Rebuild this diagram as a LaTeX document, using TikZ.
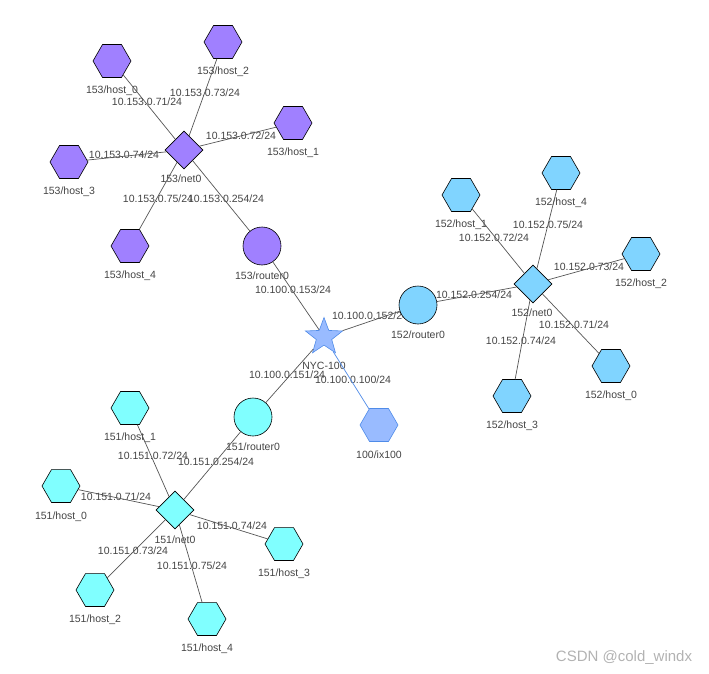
\documentclass[tikz,border=0pt]{standalone}
\usepackage{fontspec}
\setmainfont{Liberation Sans}
\usetikzlibrary{shapes.geometric}
\definecolor{fill153}{HTML}{A080FF}
\definecolor{fill152}{HTML}{80D4FF}
\definecolor{fill151}{HTML}{80FFFF}
\definecolor{fill100}{HTML}{99BBFF}
\definecolor{line100}{HTML}{4F8BE8}
\definecolor{linkgray}{HTML}{555555}
\definecolor{textgray}{HTML}{444444}

\begin{document}
\begin{tikzpicture}[x=1pt,y=-1pt]
\tikzset{
  shapebase/.style={draw=black,line width=0.6pt,inner sep=0pt},
  hostnode/.style={shapebase,regular polygon,regular polygon sides=6,minimum size=38pt},
  netnode/.style={shapebase,diamond,minimum width=38pt,minimum height=38pt},
  routernode/.style={shapebase,circle,minimum size=38pt},
  asnode/.style={shapebase,draw=line100,fill=fill100,star,star points=5,star point ratio=2.4,minimum size=39pt},
  ixnode/.style={hostnode,draw=line100,fill=fill100},
  nametext/.style={text=textgray,inner sep=0pt,font=\fontsize{10.5}{12}\selectfont},
  iptext/.style={nametext},
  link/.style={draw=linkgray,line width=0.7pt},
  ixlink/.style={link,draw=line100}
}
\useasboundingbox (0,0) rectangle (709,674);
% ip labels
\node[iptext] (ip_153_71) at (147,102) {10.153.0.71/24};
\node[iptext] (ip_153_73) at (205,93) {10.153.0.73/24};
\node[iptext] (ip_153_72) at (241,136) {10.153.0.72/24};
\node[iptext] (ip_153_74) at (124,155) {10.153.0.74/24};
\node[iptext] (ip_153_75) at (158,199) {10.153.0.75/24};
\node[iptext] (ip_153_254) at (226,199) {10.153.0.254/24};
\node[iptext] (ip_100_153) at (293,290) {10.100.0.153/24};
\node[iptext] (ip_100_152) at (370,316) {10.100.0.152/24};
\node[iptext] (ip_100_151) at (287,375) {10.100.0.151/24};
\node[iptext] (ip_100_100) at (353,380) {10.100.0.100/24};
\node[iptext] (ip_152_254) at (474,295) {10.152.0.254/24};
\node[iptext] (ip_152_72) at (494,238) {10.152.0.72/24};
\node[iptext] (ip_152_75) at (548,225) {10.152.0.75/24};
\node[iptext] (ip_152_73) at (589,267) {10.152.0.73/24};
\node[iptext] (ip_152_71) at (574,325) {10.152.0.71/24};
\node[iptext] (ip_152_74) at (521,341) {10.152.0.74/24};
\node[iptext] (ip_151_72) at (153,456) {10.151.0.72/24};
\node[iptext] (ip_151_254) at (216,462) {10.151.0.254/24};
\node[iptext] (ip_151_71) at (116,497) {10.151.0.71/24};
\node[iptext] (ip_151_74) at (232,526) {10.151.0.74/24};
\node[iptext] (ip_151_73) at (133,551) {10.151.0.73/24};
\node[iptext] (ip_151_75) at (192,566) {10.151.0.75/24};
% as153
\node[hostnode,fill=fill153] (n_153_h0) at (112,61) {};
\node[hostnode,fill=fill153] (n_153_h1) at (293,123) {};
\node[hostnode,fill=fill153] (n_153_h2) at (223,42) {};
\node[hostnode,fill=fill153] (n_153_h3) at (69,162) {};
\node[hostnode,fill=fill153] (n_153_h4) at (130,246) {};
\node[netnode,fill=fill153] (n_153_net) at (184,150) {};
\node[routernode,fill=fill153] (n_153_r) at (262,246) {};
\node[nametext] (t_153_h0) at (112,91) {153/host\_0};
\node[nametext] (t_153_h1) at (293,153) {153/host\_1};
\node[nametext] (t_153_h2) at (223,72) {153/host\_2};
\node[nametext] (t_153_h3) at (69,192) {153/host\_3};
\node[nametext] (t_153_h4) at (130,276) {153/host\_4};
\node[nametext] (t_153_net) at (181,179) {153/net0};
\node[nametext] (t_153_r) at (262,276) {153/router0};
% as152
\node[hostnode,fill=fill152] (n_152_h0) at (611,366) {};
\node[hostnode,fill=fill152] (n_152_h1) at (461,195) {};
\node[hostnode,fill=fill152] (n_152_h2) at (641,254) {};
\node[hostnode,fill=fill152] (n_152_h3) at (512,396) {};
\node[hostnode,fill=fill152] (n_152_h4) at (561,173) {};
\node[netnode,fill=fill152] (n_152_net) at (533,284) {};
\node[routernode,fill=fill152] (n_152_r) at (418,305) {};
\node[nametext] (t_152_h0) at (611,396) {152/host\_0};
\node[nametext] (t_152_h1) at (461,225) {152/host\_1};
\node[nametext] (t_152_h2) at (641,284) {152/host\_2};
\node[nametext] (t_152_h3) at (512,426) {152/host\_3};
\node[nametext] (t_152_h4) at (561,203) {152/host\_4};
\node[nametext] (t_152_net) at (532,313) {152/net0};
\node[nametext] (t_152_r) at (418,335) {152/router0};
% as151
\node[hostnode,fill=fill151] (n_151_h0) at (61,486) {};
\node[hostnode,fill=fill151] (n_151_h1) at (130,408) {};
\node[hostnode,fill=fill151] (n_151_h2) at (95,590) {};
\node[hostnode,fill=fill151] (n_151_h3) at (284,544) {};
\node[hostnode,fill=fill151] (n_151_h4) at (207,619) {};
\node[netnode,fill=fill151] (n_151_net) at (175,510) {};
\node[routernode,fill=fill151] (n_151_r) at (253,417) {};
\node[nametext] (t_151_h0) at (61,517) {151/host\_0};
\node[nametext] (t_151_h1) at (130,438) {151/host\_1};
\node[nametext] (t_151_h2) at (95,620) {151/host\_2};
\node[nametext] (t_151_h3) at (284,574) {151/host\_3};
\node[nametext] (t_151_h4) at (207,649) {151/host\_4};
\node[nametext] (t_151_net) at (175,540) {151/net0};
\node[nametext] (t_151_r) at (253,447) {151/router0};
% as100
\node[asnode] (n_nyc) at (324,337) {};
\node[ixnode] (n_ix100) at (379,425) {};
\node[nametext] (t_nyc) at (324,366) {NYC-100};
\node[nametext] (t_ix100) at (379,455) {100/ix100};
\node[text=black!30,inner sep=0pt,font=\fontsize{15}{17}\selectfont] (t_mark) at (624,658) {CSDN @cold\_windx};
% links
\draw[link] (n_153_net) -- (n_153_h0);
\draw[link] (n_153_net) -- (n_153_h1);
\draw[link] (n_153_net) -- (n_153_h2);
\draw[link] (n_153_net) -- (n_153_h3);
\draw[link] (n_153_net) -- (n_153_h4);
\draw[link] (n_153_net) -- (n_153_r);
\draw[link] (n_153_r) -- (n_nyc);
\draw[link] (n_152_r) -- (n_nyc);
\draw[link] (n_151_r) -- (n_nyc);
\draw[ixlink] (n_nyc) -- (n_ix100);
\draw[link] (n_152_net) -- (n_152_r);
\draw[link] (n_152_net) -- (n_152_h0);
\draw[link] (n_152_net) -- (n_152_h1);
\draw[link] (n_152_net) -- (n_152_h2);
\draw[link] (n_152_net) -- (n_152_h3);
\draw[link] (n_152_net) -- (n_152_h4);
\draw[link] (n_151_net) -- (n_151_r);
\draw[link] (n_151_net) -- (n_151_h0);
\draw[link] (n_151_net) -- (n_151_h1);
\draw[link] (n_151_net) -- (n_151_h2);
\draw[link] (n_151_net) -- (n_151_h3);
\draw[link] (n_151_net) -- (n_151_h4);
\end{tikzpicture}
\end{document}
